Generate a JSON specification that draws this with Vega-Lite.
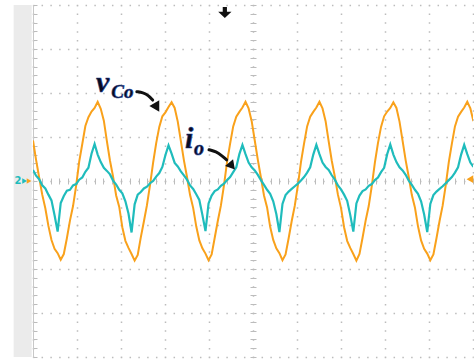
{
  "$schema": "https://vega.github.io/schema/vega-lite/v6.json",
  "width": 440,
  "height": 352,
  "autosize": {"type": "none"},
  "padding": {"left": 33, "top": 5, "right": 1, "bottom": 4},
  "background": "white",
  "config": {"view": {"stroke": null}},
  "datasets": {
    "scope": [
      {"t": 0.00, "vco": 0.92, "io": 0.25}, {"t": 0.07, "vco": 0.48, "io": 0.12}, {"t": 0.14, "vco": 0.08, "io": 0.04}, {"t": 0.21, "vco": -0.31, "io": -0.10},
      {"t": 0.28, "vco": -0.62, "io": -0.17}, {"t": 0.35, "vco": -1.02, "io": -0.31}, {"t": 0.42, "vco": -1.34, "io": -0.44}, {"t": 0.49, "vco": -1.54, "io": -0.78},
      {"t": 0.56, "vco": -1.64, "io": -1.15}, {"t": 0.63, "vco": -1.79, "io": -0.50}, {"t": 0.70, "vco": -1.66, "io": -0.34}, {"t": 0.77, "vco": -1.30, "io": -0.22},
      {"t": 0.84, "vco": -0.90, "io": -0.20}, {"t": 0.91, "vco": -0.57, "io": -0.10}, {"t": 0.98, "vco": -0.11, "io": -0.07}, {"t": 1.05, "vco": 0.44, "io": 0.03},
      {"t": 1.12, "vco": 0.84, "io": 0.08}, {"t": 1.19, "vco": 1.25, "io": 0.21}, {"t": 1.26, "vco": 1.45, "io": 0.30}, {"t": 1.33, "vco": 1.58, "io": 0.62},
      {"t": 1.40, "vco": 1.66, "io": 0.84}, {"t": 1.47, "vco": 1.80, "io": 0.60}, {"t": 1.54, "vco": 1.64, "io": 0.43}, {"t": 1.61, "vco": 1.37, "io": 0.30},
      {"t": 1.68, "vco": 0.90, "io": 0.23}, {"t": 1.75, "vco": 0.46, "io": 0.15}, {"t": 1.82, "vco": 0.10, "io": 0.01}, {"t": 1.89, "vco": -0.33, "io": -0.08},
      {"t": 1.96, "vco": -0.59, "io": -0.20}, {"t": 2.03, "vco": -1.05, "io": -0.28}, {"t": 2.10, "vco": -1.36, "io": -0.46}, {"t": 2.17, "vco": -1.52, "io": -0.74},
      {"t": 2.24, "vco": -1.66, "io": -1.17}, {"t": 2.31, "vco": -1.81, "io": -0.53}, {"t": 2.38, "vco": -1.68, "io": -0.31}, {"t": 2.45, "vco": -1.28, "io": -0.25},
      {"t": 2.52, "vco": -0.92, "io": -0.17}, {"t": 2.59, "vco": -0.55, "io": -0.13}, {"t": 2.66, "vco": -0.09, "io": -0.05}, {"t": 2.73, "vco": 0.42, "io": 0.00},
      {"t": 2.80, "vco": 0.86, "io": 0.10}, {"t": 2.87, "vco": 1.23, "io": 0.18}, {"t": 2.94, "vco": 1.47, "io": 0.32}, {"t": 3.01, "vco": 1.56, "io": 0.59},
      {"t": 3.08, "vco": 1.68, "io": 0.81}, {"t": 3.15, "vco": 1.79, "io": 0.62}, {"t": 3.22, "vco": 1.66, "io": 0.41}, {"t": 3.29, "vco": 1.35, "io": 0.33},
      {"t": 3.36, "vco": 0.91, "io": 0.22}, {"t": 3.43, "vco": 0.47, "io": 0.13}, {"t": 3.50, "vco": 0.09, "io": 0.03}, {"t": 3.57, "vco": -0.32, "io": -0.10},
      {"t": 3.64, "vco": -0.61, "io": -0.18}, {"t": 3.71, "vco": -1.03, "io": -0.30}, {"t": 3.78, "vco": -1.35, "io": -0.43}, {"t": 3.85, "vco": -1.53, "io": -0.77},
      {"t": 3.92, "vco": -1.65, "io": -1.14}, {"t": 3.99, "vco": -1.80, "io": -0.51}, {"t": 4.06, "vco": -1.67, "io": -0.33}, {"t": 4.13, "vco": -1.29, "io": -0.23},
      {"t": 4.20, "vco": -0.91, "io": -0.19}, {"t": 4.27, "vco": -0.56, "io": -0.11}, {"t": 4.34, "vco": -0.10, "io": -0.06}, {"t": 4.41, "vco": 0.43, "io": 0.02},
      {"t": 4.48, "vco": 0.85, "io": 0.09}, {"t": 4.55, "vco": 1.24, "io": 0.20}, {"t": 4.62, "vco": 1.46, "io": 0.31}, {"t": 4.69, "vco": 1.57, "io": 0.61},
      {"t": 4.76, "vco": 1.67, "io": 0.82}, {"t": 4.83, "vco": 1.80, "io": 0.61}, {"t": 4.90, "vco": 1.65, "io": 0.42}, {"t": 4.97, "vco": 1.36, "io": 0.31},
      {"t": 5.04, "vco": 0.92, "io": 0.24}, {"t": 5.11, "vco": 0.48, "io": 0.14}, {"t": 5.18, "vco": 0.08, "io": 0.02}, {"t": 5.25, "vco": -0.33, "io": -0.09},
      {"t": 5.32, "vco": -0.60, "io": -0.20}, {"t": 5.39, "vco": -1.04, "io": -0.29}, {"t": 5.46, "vco": -1.34, "io": -0.46}, {"t": 5.53, "vco": -1.53, "io": -0.75},
      {"t": 5.60, "vco": -1.64, "io": -1.16}, {"t": 5.67, "vco": -1.80, "io": -0.52}, {"t": 5.74, "vco": -1.67, "io": -0.32}, {"t": 5.81, "vco": -1.30, "io": -0.24},
      {"t": 5.88, "vco": -0.91, "io": -0.18}, {"t": 5.95, "vco": -0.56, "io": -0.12}, {"t": 6.02, "vco": -0.10, "io": -0.06}, {"t": 6.09, "vco": 0.43, "io": 0.01},
      {"t": 6.16, "vco": 0.85, "io": 0.09}, {"t": 6.23, "vco": 1.24, "io": 0.19}, {"t": 6.30, "vco": 1.46, "io": 0.31}, {"t": 6.37, "vco": 1.57, "io": 0.60},
      {"t": 6.44, "vco": 1.67, "io": 0.82}, {"t": 6.51, "vco": 1.80, "io": 0.61}, {"t": 6.58, "vco": 1.65, "io": 0.42}, {"t": 6.65, "vco": 1.36, "io": 0.32},
      {"t": 6.72, "vco": 0.90, "io": 0.25}, {"t": 6.79, "vco": 0.46, "io": 0.13}, {"t": 6.86, "vco": 0.10, "io": 0.03}, {"t": 6.93, "vco": -0.31, "io": -0.10},
      {"t": 7.00, "vco": -0.61, "io": -0.19}, {"t": 7.07, "vco": -1.05, "io": -0.31}, {"t": 7.14, "vco": -1.36, "io": -0.45}, {"t": 7.21, "vco": -1.52, "io": -0.77},
      {"t": 7.28, "vco": -1.66, "io": -1.15}, {"t": 7.35, "vco": -1.81, "io": -0.51}, {"t": 7.42, "vco": -1.66, "io": -0.33}, {"t": 7.49, "vco": -1.29, "io": -0.23},
      {"t": 7.56, "vco": -0.90, "io": -0.19}, {"t": 7.63, "vco": -0.57, "io": -0.11}, {"t": 7.70, "vco": -0.11, "io": -0.07}, {"t": 7.77, "vco": 0.42, "io": 0.02},
      {"t": 7.84, "vco": 0.86, "io": 0.08}, {"t": 7.91, "vco": 1.23, "io": 0.20}, {"t": 7.98, "vco": 1.47, "io": 0.30}, {"t": 8.05, "vco": 1.58, "io": 0.61},
      {"t": 8.12, "vco": 1.66, "io": 0.83}, {"t": 8.19, "vco": 1.79, "io": 0.60}, {"t": 8.26, "vco": 1.66, "io": 0.43}, {"t": 8.33, "vco": 1.35, "io": 0.31},
      {"t": 8.40, "vco": 0.91, "io": 0.24}, {"t": 8.47, "vco": 0.47, "io": 0.14}, {"t": 8.54, "vco": 0.09, "io": 0.01}, {"t": 8.61, "vco": -0.32, "io": -0.09},
      {"t": 8.68, "vco": -0.60, "io": -0.20}, {"t": 8.75, "vco": -1.03, "io": -0.29}, {"t": 8.82, "vco": -1.35, "io": -0.46}, {"t": 8.89, "vco": -1.54, "io": -0.76},
      {"t": 8.96, "vco": -1.65, "io": -1.16}, {"t": 9.03, "vco": -1.80, "io": -0.52}, {"t": 9.10, "vco": -1.67, "io": -0.32}, {"t": 9.17, "vco": -1.30, "io": -0.24},
      {"t": 9.24, "vco": -0.91, "io": -0.18}, {"t": 9.31, "vco": -0.56, "io": -0.12}, {"t": 9.38, "vco": -0.10, "io": -0.05}, {"t": 9.45, "vco": 0.43, "io": 0.02},
      {"t": 9.52, "vco": 0.85, "io": 0.09}, {"t": 9.59, "vco": 1.24, "io": 0.19}, {"t": 9.66, "vco": 1.46, "io": 0.31}, {"t": 9.73, "vco": 1.57, "io": 0.60},
      {"t": 9.80, "vco": 1.67, "io": 0.82}, {"t": 9.87, "vco": 1.80, "io": 0.61}, {"t": 9.94, "vco": 1.65, "io": 0.42}, {"t": 10.01, "vco": 1.36, "io": 0.32}
    ],
    "one": [{}],
    "arrowV": [{"t": 2.36, "v": 2.03}, {"t": 2.50, "v": 2.01}, {"t": 2.62, "v": 1.95}, {"t": 2.72, "v": 1.84}],
    "arrowI": [{"t": 4.00, "v": 0.71}, {"t": 4.16, "v": 0.67}, {"t": 4.30, "v": 0.57}, {"t": 4.40, "v": 0.48}]
  },
  "resolve": {"axis": {"x": "independent", "y": "independent"}},
  "layer": [
    {
      "description": "grey side strip of the scope screen",
      "data": {"name": "one"},
      "mark": {"type": "rect", "color": "#ebebeb", "clip": false},
      "encoding": {
        "x": {"datum": -0.44, "type": "quantitative", "scale": {"domain": [0, 10], "nice": false, "zero": false},
          "axis": {"orient": "bottom", "values": [0, 1, 2, 3, 4, 5, 6, 7, 8, 9, 10], "grid": true, "gridDash": [1.5, 7.3], "gridDashOffset": 0.75, "gridColor": "#bcbcbc", "gridWidth": 1.5, "labels": false, "ticks": false, "domain": false, "title": null}},
        "x2": {"datum": -0.03},
        "y": {"datum": -4, "type": "quantitative", "scale": {"domain": [-4, 4], "nice": false, "zero": false},
          "axis": {"orient": "left", "values": [-4, -3, -2, -1, 0, 1, 2, 3, 4], "grid": true, "gridDash": [1.5, 7.3], "gridDashOffset": 0.75, "gridColor": "#bcbcbc", "gridWidth": 1.5, "labels": false, "ticks": false, "domain": false, "title": null}},
        "y2": {"datum": 4}
      }
    },
    {
      "description": "output voltage v_Co",
      "data": {"name": "scope"},
      "mark": {"type": "line", "color": "#f9a11b", "strokeWidth": 2, "clip": true},
      "encoding": {
        "x": {"field": "t", "type": "quantitative",
          "axis": {"orient": "bottom", "offset": -179, "values": [0,0.2,0.4,0.6,0.8,1,1.2,1.4,1.6,1.8,2,2.2,2.4,2.6,2.8,3,3.2,3.4,3.6,3.8,4,4.2,4.4,4.6,4.8,5,5.2,5.4,5.6,5.8,6,6.2,6.4,6.6,6.8,7,7.2,7.4,7.6,7.8,8,8.2,8.4,8.6,8.8,9,9.2,9.4,9.6,9.8,10], "grid": false, "labels": false, "ticks": true, "tickSize": 6, "tickColor": "#bcbcbc", "domain": false, "title": null}},
        "y": {"field": "vco", "type": "quantitative",
          "axis": {"orient": "left", "offset": -223, "values": [-4,-3.8,-3.6,-3.4,-3.2,-3,-2.8,-2.6,-2.4,-2.2,-2,-1.8,-1.6,-1.4,-1.2,-1,-0.8,-0.6,-0.4,-0.2,0,0.2,0.4,0.6,0.8,1,1.2,1.4,1.6,1.8,2,2.2,2.4,2.6,2.8,3,3.2,3.4,3.6,3.8,4], "grid": false, "labels": false, "ticks": true, "tickSize": 6, "tickColor": "#bcbcbc", "domain": false, "title": null}}
      }
    },
    {
      "description": "output current i_o",
      "data": {"name": "scope"},
      "mark": {"type": "line", "color": "#1fbcbc", "strokeWidth": 2.2, "clip": true},
      "encoding": {
        "x": {"field": "t", "type": "quantitative", "axis": null},
        "y": {"field": "io", "type": "quantitative",
          "axis": {"orient": "right", "offset": -440, "values": [-4,-3.8,-3.6,-3.4,-3.2,-3,-2.8,-2.6,-2.4,-2.2,-2,-1.8,-1.6,-1.4,-1.2,-1,-0.8,-0.6,-0.4,-0.2,0,0.2,0.4,0.6,0.8,1,1.2,1.4,1.6,1.8,2,2.2,2.4,2.6,2.8,3,3.2,3.4,3.6,3.8,4], "grid": false, "labels": false, "ticks": true, "tickSize": 4, "tickColor": "#bcbcbc", "domain": true, "domainColor": "#c8c8c8", "title": null}}
      }
    },
    {
      "description": "trigger position marker",
      "data": {"name": "one"},
      "mark": {"type": "point", "filled": true, "color": "#111111", "opacity": 1, "size": 196, "clip": false,
        "shape": "M-0.3,-0.8L0.3,-0.8L0.3,-0.1L0.95,-0.1L0,0.8L-0.95,-0.1L-0.3,-0.1Z"},
      "encoding": {"x": {"datum": 4.36, "type": "quantitative", "axis": null}, "y": {"datum": 3.83, "type": "quantitative", "axis": null}}
    },
    {
      "description": "trigger level marker",
      "data": {"name": "one"},
      "mark": {"type": "point", "filled": true, "shape": "triangle-left", "color": "#f9a11b", "opacity": 1, "size": 60, "clip": false},
      "encoding": {"x": {"datum": 9.93, "type": "quantitative", "axis": null}, "y": {"datum": 0.04, "type": "quantitative", "axis": null}}
    },
    {
      "description": "channel 1 ground marker",
      "data": {"name": "one"},
      "mark": {"type": "point", "filled": true, "shape": "triangle-right", "color": "#f9a11b", "opacity": 1, "size": 30, "clip": false},
      "encoding": {"x": {"datum": -0.09, "type": "quantitative", "axis": null}, "y": {"datum": 0, "type": "quantitative", "axis": null}}
    },
    {
      "description": "channel 2 ground marker",
      "data": {"name": "one"},
      "mark": {"type": "point", "filled": true, "shape": "triangle-right", "color": "#1fbcbc", "opacity": 1, "size": 30, "clip": false},
      "encoding": {"x": {"datum": -0.19, "type": "quantitative", "axis": null}, "y": {"datum": 0, "type": "quantitative", "axis": null}}
    },
    {
      "data": {"name": "one"},
      "mark": {"type": "text", "text": "2", "color": "#1fbcbc", "font": "DejaVu Sans", "fontSize": 10, "fontWeight": "bold", "align": "center", "baseline": "middle", "clip": false},
      "encoding": {"x": {"datum": -0.34, "type": "quantitative", "axis": null}, "y": {"datum": 0, "type": "quantitative", "axis": null}}
    },
    {
      "description": "callout arrow for v_Co",
      "data": {"name": "arrowV"},
      "mark": {"type": "line", "color": "#111111", "strokeWidth": 3, "interpolate": "basis", "strokeCap": "round"},
      "encoding": {"x": {"field": "t", "type": "quantitative", "axis": null}, "y": {"field": "v", "type": "quantitative", "axis": null}}
    },
    {
      "description": "callout arrow for i_o",
      "data": {"name": "arrowI"},
      "mark": {"type": "line", "color": "#111111", "strokeWidth": 3, "interpolate": "basis", "strokeCap": "round"},
      "encoding": {"x": {"field": "t", "type": "quantitative", "axis": null}, "y": {"field": "v", "type": "quantitative", "axis": null}}
    },
    {
      "data": {"name": "one"},
      "mark": {"type": "point", "filled": true, "shape": "triangle", "angle": 150, "color": "#111111", "opacity": 1, "size": 130},
      "encoding": {"x": {"datum": 2.795, "type": "quantitative", "axis": null}, "y": {"datum": 1.705, "type": "quantitative", "axis": null}}
    },
    {
      "data": {"name": "one"},
      "mark": {"type": "point", "filled": true, "shape": "triangle", "angle": 140, "color": "#111111", "opacity": 1, "size": 110},
      "encoding": {"x": {"datum": 4.5, "type": "quantitative", "axis": null}, "y": {"datum": 0.364, "type": "quantitative", "axis": null}}
    },
    {
      "data": {"name": "one"},
      "mark": {"type": "text", "text": "v", "font": "Liberation Serif", "fontSize": 30, "fontStyle": "italic", "fontWeight": "bold", "fill": "#0b0b1e", "stroke": "#1c3f94", "strokeWidth": 0.6, "align": "left", "baseline": "alphabetic"},
      "encoding": {"x": {"datum": 1.432, "type": "quantitative", "axis": null}, "y": {"datum": 2.023, "type": "quantitative", "axis": null}}
    },
    {
      "data": {"name": "one"},
      "mark": {"type": "text", "text": "Co", "font": "Liberation Serif", "fontSize": 19, "fontStyle": "italic", "fontWeight": "bold", "fill": "#0b0b1e", "stroke": "#1c3f94", "strokeWidth": 0.6, "align": "left", "baseline": "alphabetic"},
      "encoding": {"x": {"datum": 1.78, "type": "quantitative", "axis": null}, "y": {"datum": 1.886, "type": "quantitative", "axis": null}}
    },
    {
      "data": {"name": "one"},
      "mark": {"type": "text", "text": "i", "font": "Liberation Serif", "fontSize": 30, "fontStyle": "italic", "fontWeight": "bold", "fill": "#0b0b1e", "stroke": "#1c3f94", "strokeWidth": 0.6, "align": "left", "baseline": "alphabetic"},
      "encoding": {"x": {"datum": 3.455, "type": "quantitative", "axis": null}, "y": {"datum": 0.75, "type": "quantitative", "axis": null}}
    },
    {
      "data": {"name": "one"},
      "mark": {"type": "text", "text": "o", "font": "Liberation Serif", "fontSize": 20, "fontStyle": "italic", "fontWeight": "bold", "fill": "#0b0b1e", "stroke": "#1c3f94", "strokeWidth": 0.6, "align": "left", "baseline": "alphabetic"},
      "encoding": {"x": {"datum": 3.66, "type": "quantitative", "axis": null}, "y": {"datum": 0.591, "type": "quantitative", "axis": null}}
    }
  ]
}
